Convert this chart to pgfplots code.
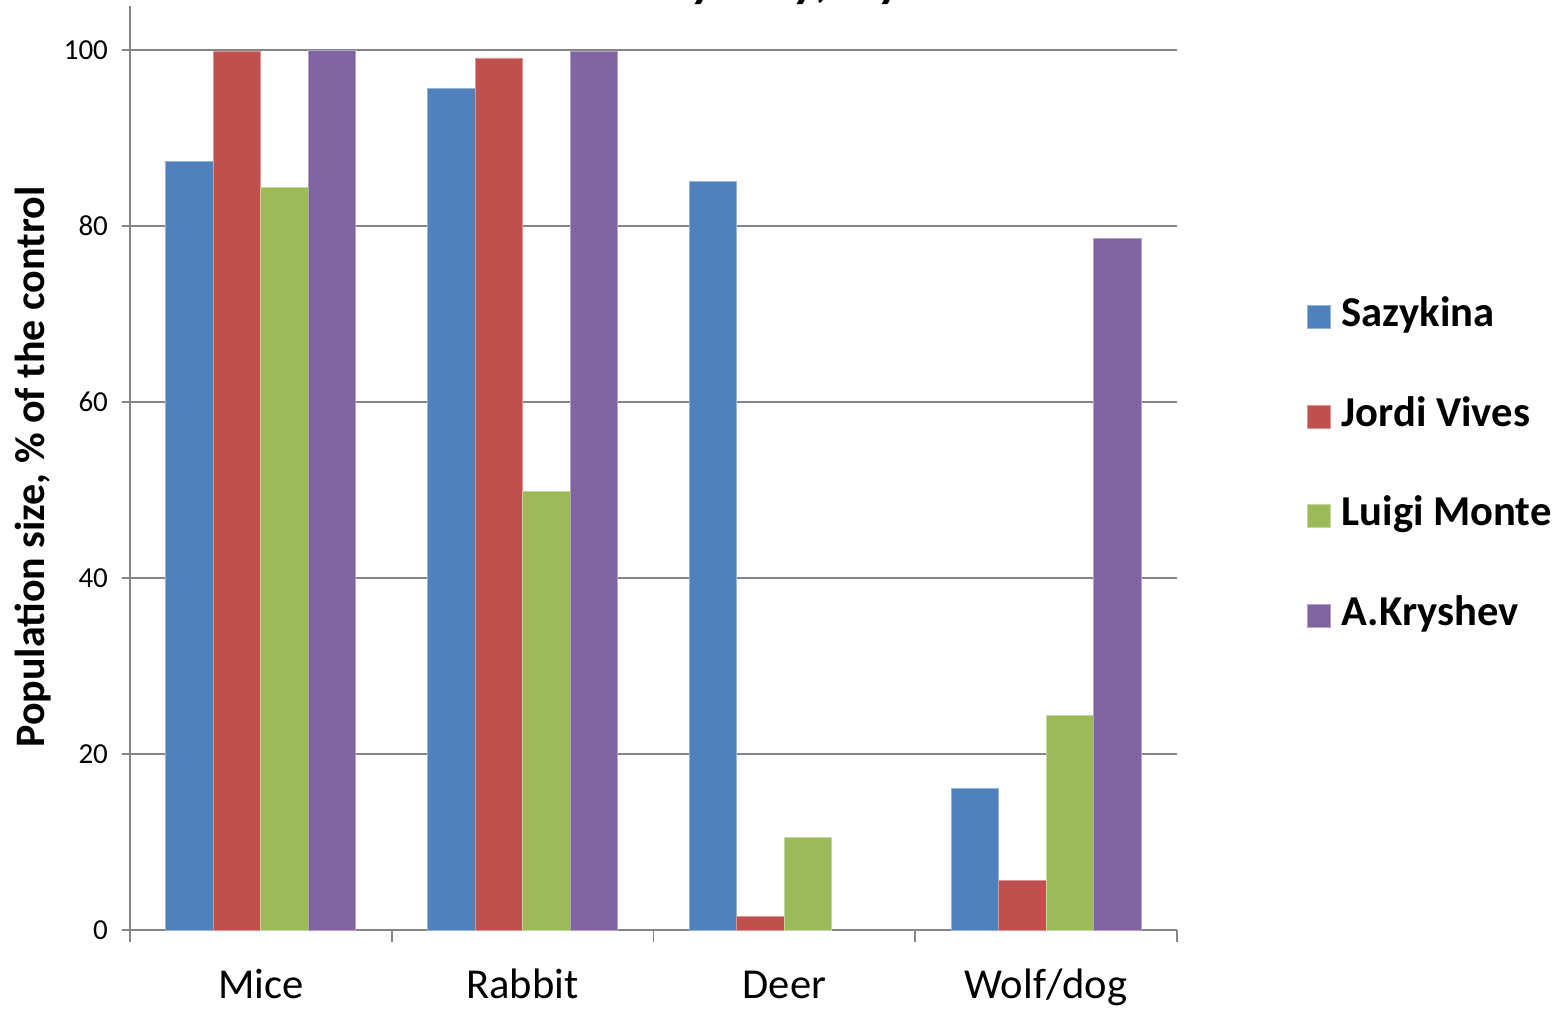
\documentclass[border=0pt]{standalone}
\usepackage{fontspec}
\setmainfont{Carlito}
\usepackage{pgfplots}
\pgfplotsset{compat=1.18}
\definecolor{c1}{HTML}{4F81BD}
\definecolor{c2}{HTML}{C0504D}
\definecolor{c3}{HTML}{9BBB59}
\definecolor{c4}{HTML}{8064A2}
\definecolor{gridc}{HTML}{868686}
\begin{document}
\begin{tikzpicture}
\begin{axis}[
  scale only axis, width=523.5pt, height=462pt,
  ymin=0, ymax=105, xmin=-0.5, xmax=3.5,
  ybar=0pt, bar width=0.1815,
  axis lines*=left,
  axis line style={gridc, line width=0.9pt},
  ytick={0,20,40,60,80,100},
  ymajorgrids, grid style={gridc, line width=0.9pt},
  tick align=outside, major tick length=4pt,
  xtick={0,1,2,3}, xticklabels={Mice,Rabbit,Deer,Wolf/dog},
  major x tick style={draw=none},
  minor xtick={-0.5,0.5,1.5,2.5,3.5}, minor tick length=6pt,
  minor x tick style={gridc, line width=0.9pt},
  y tick style={gridc, line width=0.9pt},
  /pgf/number format/assume math mode=true,
  yticklabel style={font=\fontsize{14.5}{17}\selectfont, xshift=-3.5pt},
  xticklabel style={font=\fontsize{21.3}{25}\selectfont, anchor=base, yshift=-30pt},
  ylabel={Population size, \% of the control},
  ylabel style={font=\bfseries\fontsize{21}{25}\selectfont, at={(axis description cs:-0.0926,0.501)}, anchor=center},
  legend style={at={(axis description cs:1.124,0.502)}, anchor=west, draw=none, fill=none,
    font=\bfseries\fontsize{21.3}{25}\selectfont, inner sep=0pt, outer sep=0pt,
    row sep=31.75pt,
    nodes={inner sep=0pt, text height=14pt, text depth=4pt},
    /tikz/every odd column/.append style={column sep=5.5pt}},
  legend cell align=left,
  legend image code/.code={\fill[#1] (0pt,-5.75pt) rectangle (11.5pt,5.75pt);},
]
\addplot[fill=c1, draw=c1!60!white, line width=0.4pt] coordinates {(0,87.3) (1,95.6) (2,85.1) (3,16.1)};
\addplot[fill=c2, draw=c2!60!white, line width=0.4pt] coordinates {(0,99.8) (1,99.1) (2,1.5) (3,5.6)};
\addplot[fill=c3, draw=c3!60!white, line width=0.4pt] coordinates {(0,84.4) (1,49.8) (2,10.5) (3,24.4)};
\addplot[fill=c4, draw=c4!60!white, line width=0.4pt] coordinates {(0,100) (1,99.8) (3,78.6)};
\legend{Sazykina, Jordi Vives, Luigi Monte, A.Kryshev}
\end{axis}
\node[anchor=base west, font=\bfseries\itshape\fontsize{26}{30}\selectfont, inner sep=0pt] at (225pt,466.5pt) {1 mGy/day, 3 years};
\pgfresetboundingbox
\path[use as bounding box] (-65pt,-39.5pt) rectangle (718pt,465pt);
\end{tikzpicture}
\end{document}
